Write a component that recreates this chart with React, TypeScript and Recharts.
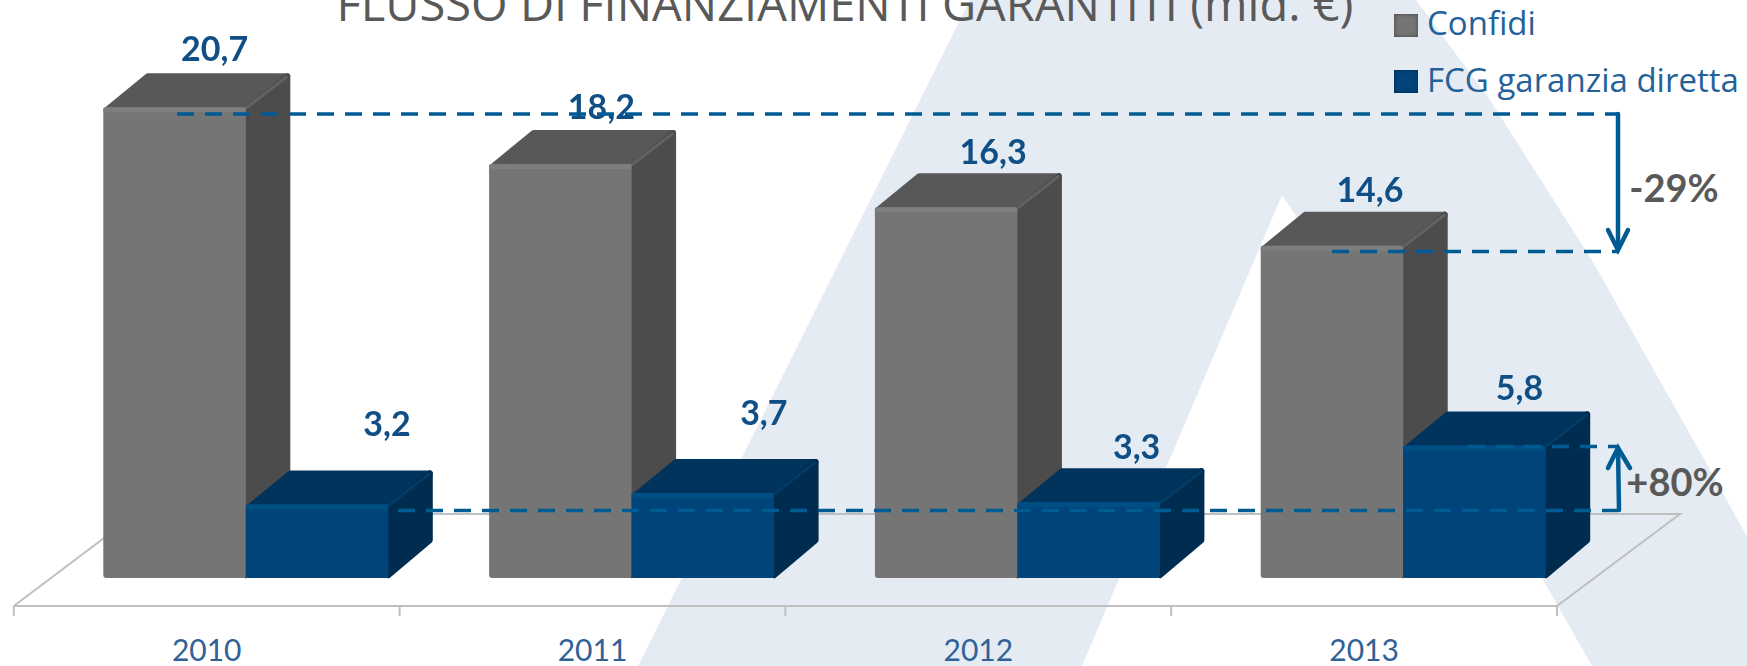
import { Bar, BarChart, LabelList, Legend, XAxis, YAxis } from 'recharts';

const years = ['2010', '2011', '2012', '2013'];
const confidi = [20.7, 18.2, 16.3, 14.6];
const fcgDiretta = [3.2, 3.7, 3.3, 5.8];

const rows = years.map((year, i) => ({ year, confidi: confidi[i], fcg: fcgDiretta[i] }));

const WIDTH = 1747;
const HEIGHT = 666;
const DASH_BLUE = '#005b94';
const TEXT_BLUE = '#0f4f85';
const GREY_TEXT = '#595959';

// bars stand mid-way on the 3D floor, so they sit right of the axis band
const FLOOR_SHIFT = 39.5;
const DEPTH_X = 44.5;
const DEPTH_Y = 35;

const greyBox = { front: '#757575', top: '#585858', side: '#4c4c4c', lip: '#7e7e7e', edge: '#626262' };
const blueBox = { front: '#00447a', top: '#00345c', side: '#002c50', lip: '#004f84', edge: '#003c66' };

// the original labels were placed by hand: offset from the box's front centre / back top
const confidiNudge = [[40, -26], [41, -25], [47, -23], [38, -23]];
const fcgNudge = [[70, -48], [61, -48], [48, -23], [45, -25]];

function Box3D(props: any, c: typeof greyBox) {
  const { y, width: w, height: h } = props;
  const x = props.x + FLOOR_SHIFT;
  const dx = DEPTH_X;
  const dy = DEPTH_Y;
  const top = `${x + 3},${y + 2} ${x + dx},${y - dy + 3} ${x + w + dx - 3},${y - dy + 3} ${x + w},${y + 2}`;
  const side = `${x + w},${y + 2} ${x + w + dx - 3},${y - dy + 3} ${x + w + dx - 3},${y + h - dy - 3} ${x + w},${y + h - 3}`;
  return (
    <g style={{ filter: 'blur(0.7px)' }}>
      <polygon points={top} fill={c.top} stroke={c.top} strokeWidth={6} strokeLinejoin="round" />
      <polygon points={side} fill={c.side} stroke={c.side} strokeWidth={6} strokeLinejoin="round" />
      <line x1={x + w} y1={y} x2={x + w + dx - 3} y2={y - dy + 3} stroke={c.edge} strokeWidth={3} />
      <rect x={x} y={y - 1} width={w} height={h + 1} rx={3} fill={c.front} />
      <rect x={x} y={y - 1} width={w} height={5} rx={2} fill={c.lip} />
    </g>
  );
}

function ValueLabel(props: any, nudge: number[][]) {
  const { x, y, width, value, index } = props;
  const [nx, ny] = nudge[index];
  return (
    <text
      x={x + FLOOR_SHIFT + width / 2 + nx}
      y={y - DEPTH_Y + ny}
      textAnchor="middle"
      dominantBaseline="central"
      fontFamily="Lato"
      fontWeight={700}
      fontSize={34}
      fill={TEXT_BLUE}
      style={{ filter: 'blur(0.4px)' }}
    >
      {String(value).replace('.', ',')}
    </text>
  );
}

function LegendBlock({ payload }: any) {
  return (
    <div>
      {(payload || []).map((item: any, i: number) => (
        <div
          key={item.value}
          style={{ position: 'absolute', left: 0, top: i * 56.5, display: 'flex', alignItems: 'center', height: 30, whiteSpace: 'nowrap' }}
        >
          <span
            style={{
              width: 24,
              height: 23,
              marginRight: 9,
              background: item.color,
              boxShadow: i === 0 ? 'inset 0 0 4px #454545' : 'inset 0 0 4px #002c50',
              filter: 'blur(0.5px)',
            }}
          />
          <span style={{ fontFamily: 'Open Sans', fontSize: 33, color: '#256199', marginTop: -5 }}>{item.value}</span>
        </div>
      ))}
    </div>
  );
}

// light "A" watermark and the 3D floor, drawn under the chart
function Backdrop() {
  return (
    <svg width={WIDTH} height={HEIGHT} style={{ position: 'absolute', left: 0, top: 0 }}>
      <polygon
        points="970,0 1416,0 1490,100 1593,262 1713,475 1747,537 1747,666 1592,666 1543,580 1282,195 1082,666 638,666"
        fill="#e4ebf2"
      />
      <g stroke="#bfbfbf" strokeWidth={2} fill="none">
        <polyline points="13.8,606 136,514 1680,514 1557,606" />
        {[13.8, 399.6, 785.4, 1171.2, 1557].map((x) => (
          <line key={x} x1={x} y1={606} x2={x} y2={616} />
        ))}
      </g>
    </svg>
  );
}

// title, dashed reference lines and % changes, drawn over the chart
function Overlay() {
  const dash = { stroke: DASH_BLUE, strokeWidth: 3.5, strokeDasharray: '17 11', fill: 'none' };
  const solid = { stroke: DASH_BLUE, strokeWidth: 4.5, fill: 'none', strokeLinecap: 'round' as const };
  return (
    <svg width={WIDTH} height={HEIGHT} style={{ position: 'absolute', left: 0, top: 0, pointerEvents: 'none' }}>
      <text x={845} y={21} textAnchor="middle" fontFamily="Open Sans" fontSize={47} fill={GREY_TEXT}>
        FLUSSO DI FINANZIAMENTI GARANTITI (mld. €)
      </text>

      <line x1={177} y1={114} x2={1618} y2={114} {...dash} />
      <line x1={1332} y1={251.5} x2={1618} y2={251.5} {...dash} />
      <line x1={398} y1={510.5} x2={1618} y2={510.5} {...dash} />
      <line x1={1468} y1={446.5} x2={1618} y2={446.5} {...dash} />

      <line x1={1618} y1={114} x2={1618} y2={250} {...solid} />
      <polyline points="1608,230 1618,250 1628,230" {...solid} />
      <line x1={1619} y1={510} x2={1618} y2={448} {...solid} />
      <polyline points="1608,468 1618,448 1630,468" {...solid} />

      <text x={1674} y={187} textAnchor="middle" dominantBaseline="central" fontFamily="Lato" fontWeight={700} fontSize={38} fill={GREY_TEXT}>
        -29%
      </text>
      <text x={1675} y={481} textAnchor="middle" dominantBaseline="central" fontFamily="Lato" fontWeight={700} fontSize={38} fill={GREY_TEXT}>
        +80%
      </text>
    </svg>
  );
}

export default function App() {
  return (
    <div style={{ position: 'absolute', left: 0, top: 0, width: WIDTH, height: HEIGHT, overflow: 'hidden', background: '#fff' }}>
      <Backdrop />
      <div style={{ position: 'absolute', left: 0, top: 0 }}>
        <BarChart
          width={WIDTH}
          height={HEIGHT}
          data={rows}
          margin={{ top: 60, right: 190, bottom: 0, left: 13.8 }}
          barGap={0}
          barSize={142.5}
        >
          <XAxis
            dataKey="year"
            height={60}
            axisLine={{ stroke: '#bfbfbf', strokeWidth: 2 }}
            tickLine={false}
            tickMargin={28}
            tick={{ fill: '#2f6296', fontSize: 30, fontFamily: 'Lato' }}
          />
          <YAxis hide domain={[-1.23, 22.83]} />
          <Legend
            layout="horizontal"
            verticalAlign="middle"
            align="center"
            content={<LegendBlock />}
            wrapperStyle={{ position: 'absolute', left: 1394, top: 10, width: 350, height: 90 }}
          />
          <Bar
            dataKey="confidi"
            name="Confidi"
            fill={greyBox.front}
            isAnimationActive={false}
            shape={(p: any) => Box3D(p, greyBox)}
          >
            <LabelList dataKey="confidi" content={(p: any) => ValueLabel(p, confidiNudge)} />
          </Bar>
          <Bar
            dataKey="fcg"
            name="FCG garanzia diretta"
            fill={blueBox.front}
            isAnimationActive={false}
            shape={(p: any) => Box3D(p, blueBox)}
          >
            <LabelList dataKey="fcg" content={(p: any) => ValueLabel(p, fcgNudge)} />
          </Bar>
        </BarChart>
      </div>
      <Overlay />
    </div>
  );
}
